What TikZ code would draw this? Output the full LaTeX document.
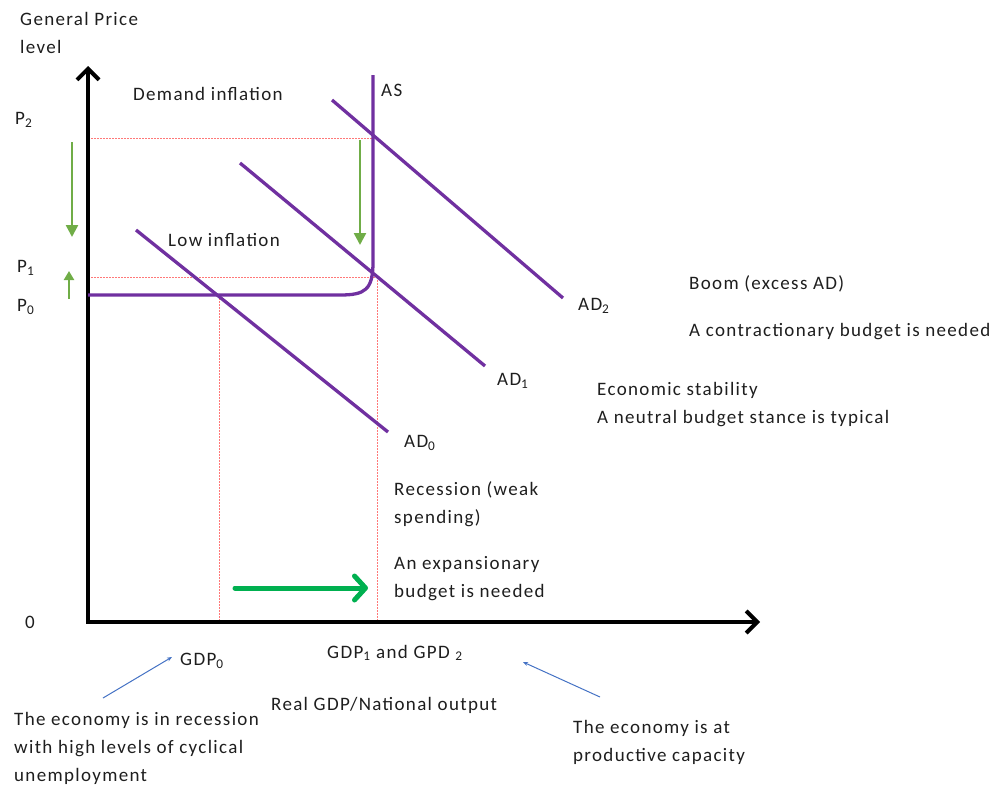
\documentclass[tikz,border=0pt]{standalone}
\usepackage{fontspec}
\setmainfont[LetterSpace=7]{Carlito}
\usetikzlibrary{arrows.meta}
\definecolor{purp}{RGB}{112,48,160}
\definecolor{lgreen}{RGB}{112,173,71}
\definecolor{bgreen}{RGB}{0,176,80}
\definecolor{pblue}{RGB}{68,114,196}
\definecolor{pink}{RGB}{255,120,120}
\definecolor{txt}{RGB}{30,30,30}
\tikzset{
  lbl/.style={anchor=west, inner sep=0pt, text=txt, font=\fontsize{19}{28}\selectfont, align=left},
  axis/.style={line width=4pt, -{Straight Barb[length=11pt,width=22pt,line width=4pt]}},
  curve/.style={purp, line width=3.3pt},
  guide/.style={pink, line width=0.8pt, dash pattern=on 2pt off 1pt},
  garrow/.style={lgreen, line width=2.5pt, -{Triangle[length=12pt,width=12pt]}},
  bigarrow/.style={bgreen, line width=5pt, line cap=round, -{Straight Barb[length=11pt,width=24pt,line width=5pt,round]}},
  barrow/.style={pblue, line width=1pt, -{Stealth[length=5pt,width=4pt]}},
}
\begin{document}
\begin{tikzpicture}[x=1pt,y=-1pt]
\useasboundingbox (0,0) rectangle (992,787);
% guides
\coordinate (p2l) at (88,138); \coordinate (p2r) at (373,138);
\coordinate (p1l) at (88,277); \coordinate (p1r) at (377,277);
\coordinate (g0t) at (219,295); \coordinate (g0b) at (219,622);
\coordinate (g1b) at (377,622);
\draw[guide] (p2l) -- (p2r);
\draw[guide] (p1l) -- (p1r);
\draw[guide] (g0t) -- (g0b);
\draw[guide] (p1r) -- (g1b);
% axes
\coordinate (O) at (88,622);
\coordinate (ytop) at (88,66);
\coordinate (xend) at (760,622);
\draw[axis, line cap=rect] (O) -- (ytop);
\draw[axis] (O) -- (xend);
% AS curve
\coordinate (astop) at (373,75);
\coordinate (asl) at (88,295);
\draw[curve] (astop) -- (373,262) .. controls (373,290) and (365,295) .. (340,295) -- (asl);
% AD curves
\coordinate (ad0a) at (136,230); \coordinate (ad0b) at (388,432);
\coordinate (ad1a) at (240,163); \coordinate (ad1b) at (485,366);
\coordinate (ad2a) at (332,100); \coordinate (ad2b) at (563,298);
\draw[curve] (ad0a) -- (ad0b);
\draw[curve] (ad1a) -- (ad1b);
\draw[curve] (ad2a) -- (ad2b);
% green arrows
\coordinate (ga1) at (72,142); \coordinate (ga2) at (72,237);
\coordinate (gb1) at (69,299); \coordinate (gb2) at (69,271);
\coordinate (gc1) at (360,140); \coordinate (gc2) at (360,245);
\draw[garrow] (ga1) -- (ga2);
\draw[garrow, line width=2.2pt, -{Triangle[length=9pt,width=10pt]}] (gb1) -- (gb2);
\draw[garrow] (gc1) -- (gc2);
\coordinate (bg1) at (235,588); \coordinate (bg2) at (368,588);
\draw[bigarrow] (bg1) -- (bg2);
% labels
\node[lbl] (gpl) at (20,33) {General Price\\level};
\node[lbl] (dinf) at (133,94) {Demand inflation};
\node[lbl] (as) at (381,90) {AS};
\node[lbl] (p2) at (15,120) {P\textsubscript{2}};
\node[lbl] (p1) at (17,268) {P\textsubscript{1}};
\node[lbl] (p0) at (17,307) {P\textsubscript{0}};
\node[lbl] (linf) at (168,240) {Low inflation};
\node[lbl] (ad2) at (578,306) {AD\textsubscript{2}};
\node[lbl] (ad1) at (497,381) {AD\textsubscript{1}};
\node[lbl] (ad0) at (404,443) {AD\textsubscript{0}};
\node[lbl] (boom) at (689,284) {Boom (excess AD)};
\node[lbl] (contr) at (689,332) {A contractionary budget is needed};
\node[lbl] (stab) at (597,405) {Economic stability\\A neutral budget stance is typical};
\node[lbl] (rec) at (394,504) {Recession (weak\\spending)};
\node[lbl] (exp) at (394,579) {An expansionary\\budget is needed};
\node[lbl] (zero) at (25,622) {0};
\node[lbl] (gdp0) at (180,661) {GDP\textsubscript{0}};
\node[lbl] (gdp1) at (327,653) {GDP\textsubscript{1} and GPD \textsubscript{2}};
\node[lbl] (real) at (271,705) {Real GDP/National output};
\node[lbl] (recn) at (14,748) {The economy is in recession\\with high levels of cyclical\\unemployment};
\node[lbl] (prod) at (573,742) {The economy is at\\productive capacity};
% blue arrows
\coordinate (bl1) at (103,698); \coordinate (bl2) at (172,657);
\coordinate (br1) at (600,697); \coordinate (br2) at (523,662);
\draw[barrow] (bl1) -- (bl2);
\draw[barrow] (br1) -- (br2);
\end{tikzpicture}
\end{document}
